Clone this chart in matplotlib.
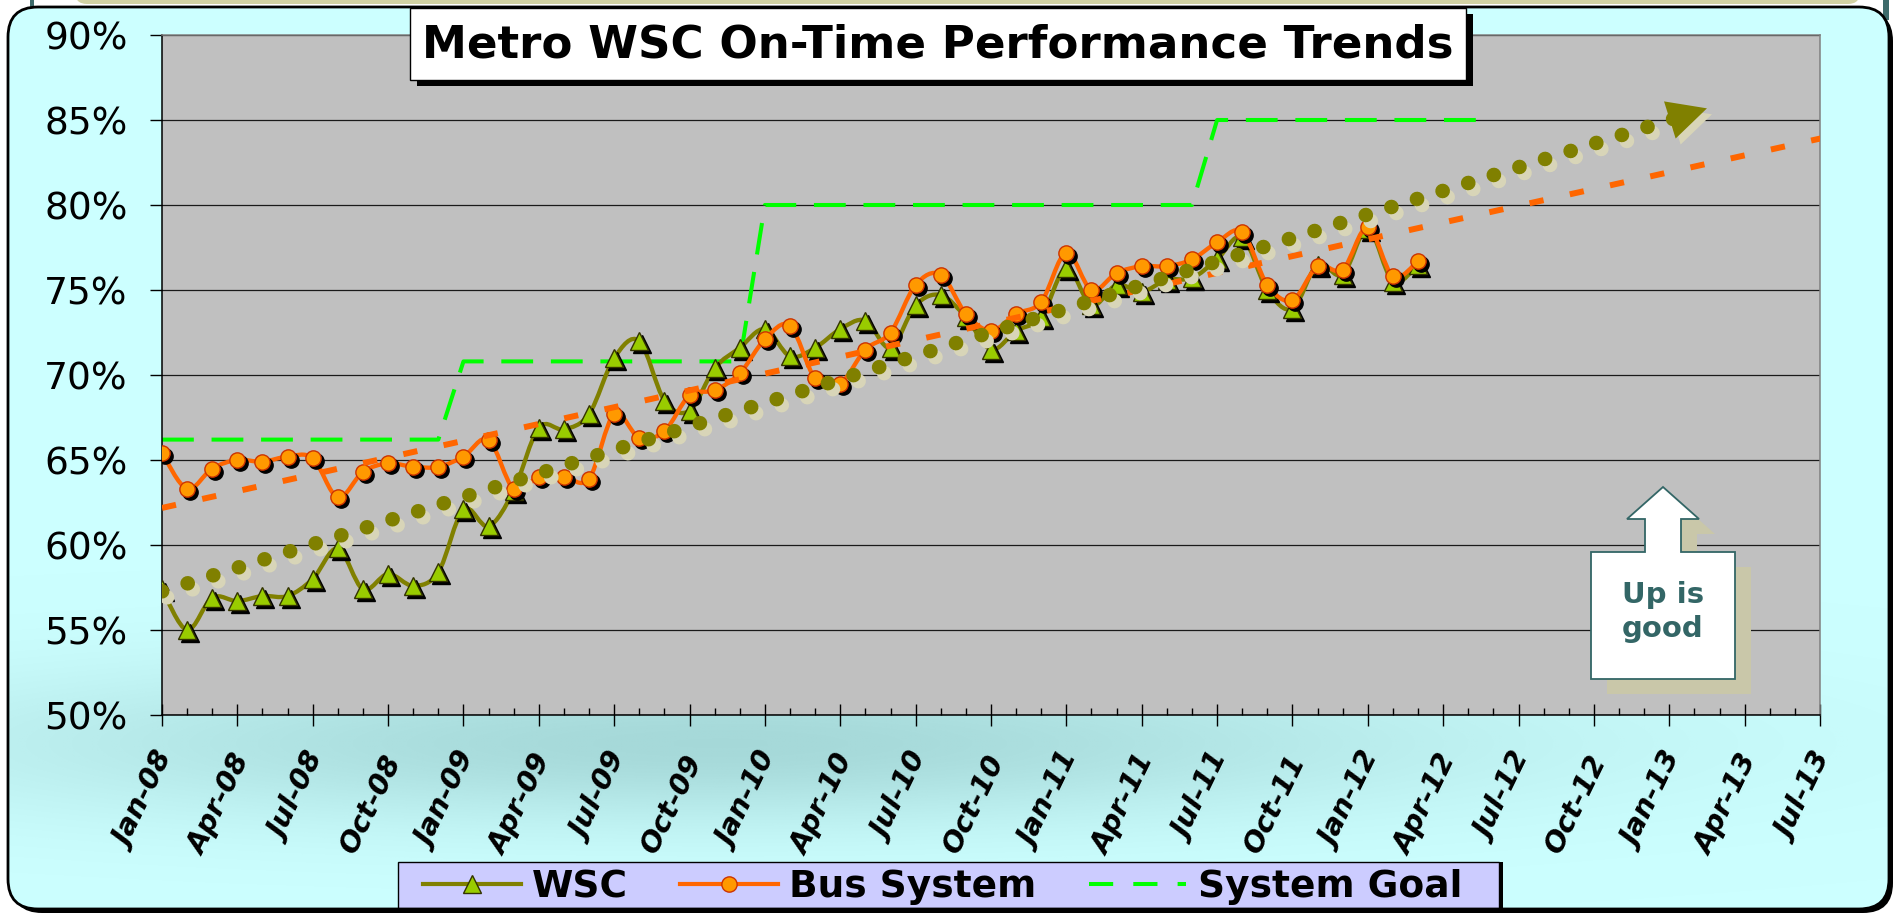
import numpy as np
import matplotlib
matplotlib.use('Agg')
import matplotlib.pyplot as plt
from matplotlib.path import Path
from matplotlib.patches import PathPatch, FancyBboxPatch, Polygon, Rectangle, FancyArrowPatch
from matplotlib.lines import Line2D
from matplotlib.transforms import ScaledTranslation
from matplotlib.ticker import MultipleLocator

plt.rcParams['font.family'] = ['DejaVu Sans']

W, H, DPI = 1895, 913, 100

# monthly on-time %, Jan-08 .. Mar-12
wsc = [57.4, 55.0, 56.9, 56.7, 57.0, 57.0, 58.0, 59.8, 57.4, 58.3, 57.6, 58.4,
       62.1, 61.1, 63.2, 66.9, 66.8, 67.7, 71.0, 72.0, 68.5, 67.9, 70.4, 71.6,
       72.7, 71.1, 71.6, 72.7, 73.2, 71.6, 74.1, 74.7, 73.4, 71.5, 72.6, 73.4,
       76.3, 74.1, 75.3, 74.9, 75.6, 75.7, 76.8, 78.1, 75.0, 73.9, 76.5, 75.9,
       78.6, 75.5, 76.5]
bus = [65.4, 63.3, 64.5, 65.0, 64.9, 65.2, 65.1, 62.8, 64.3, 64.8, 64.6, 64.6,
       65.2, 66.2, 63.3, 64.0, 64.0, 63.9, 67.7, 66.3, 66.7, 68.8, 69.1, 70.1,
       72.1, 72.9, 69.8, 69.5, 71.5, 72.5, 75.3, 75.9, 73.6, 72.6, 73.6, 74.3,
       77.2, 75.0, 76.0, 76.4, 76.4, 76.8, 77.8, 78.4, 75.3, 74.4, 76.4, 76.2,
       78.7, 75.8, 76.7]
# system goal, Jan-08 .. Jun-12
goal = [66.2, 66.2, 66.2, 66.2, 66.2, 66.2, 66.2, 66.2, 66.2, 66.2, 66.2, 66.2,
        70.8, 70.8, 70.8, 70.8, 70.8, 70.8, 70.8, 70.8, 70.8, 70.8, 70.8, 70.8,
        80.0, 80.0, 80.0, 80.0, 80.0, 80.0, 80.0, 80.0, 80.0, 80.0, 80.0, 80.0,
        80.0, 80.0, 80.0, 80.0, 80.0, 80.0,
        85.0, 85.0, 85.0, 85.0, 85.0, 85.0, 85.0, 85.0, 85.0, 85.0, 85.0, 85.0]

tick_labels = ['Jan-08', 'Apr-08', 'Jul-08', 'Oct-08', 'Jan-09', 'Apr-09',
               'Jul-09', 'Oct-09', 'Jan-10', 'Apr-10', 'Jul-10', 'Oct-10',
               'Jan-11', 'Apr-11', 'Jul-11', 'Oct-11', 'Jan-12', 'Apr-12',
               'Jul-12', 'Oct-12', 'Jan-13', 'Apr-13', 'Jul-13']
y_ticks = [50, 55, 60, 65, 70, 75, 80, 85, 90]
series_names = ['WSC', 'Bus System', 'System Goal']

n_months = 66          # Jan-08 .. Jul-13
wsc_trend_end = 61.5   # forward forecast of the WSC trendline

OLIVE, LIME = '#808000', '#99CC00'
ORANGE, LORANGE = '#FF6600', '#FF9900'
GREEN = '#00FF00'
TEAL = '#336666'


def inch(x, y):
    # pixel position (top-left origin) -> inches for fig.dpi_scale_trans
    return (x / DPI, (H - y) / DPI)


def frac(x, y):
    return (x / W, 1 - y / H)


def smooth_path(xs, ys):
    # Catmull-Rom style bezier through the points, like Excel's smoothed line
    p = np.column_stack([xs, ys]).astype(float)
    ext = np.vstack([p[0], p, p[-1]])
    verts, codes = [p[0]], [Path.MOVETO]
    for i in range(len(p) - 1):
        p0, p1, p2, p3 = ext[i], ext[i + 1], ext[i + 2], ext[i + 3]
        verts += [p1 + (p2 - p0) / 6, p2 - (p3 - p1) / 6, p2]
        codes += [Path.CURVE4] * 3
    return Path(verts, codes)


fig = plt.figure(figsize=(W / DPI, H / DPI), dpi=DPI)
fig.patch.set_facecolor('white')
inches = fig.dpi_scale_trans

# ----------------------------
# frame / background
# ----------------------------
fig.add_artist(FancyBboxPatch(inch(75, 4), (1860 - 75) / DPI, 0.4,
                              boxstyle='round,pad=0,rounding_size=0.12',
                              transform=inches, fc='#D2D2A4', ec='none', zorder=-12))
fig.add_artist(Rectangle(inch(30, 8), 0.04, 0.08, transform=inches,
                         fc='#3D6B6B', ec='none', zorder=-12))
fig.add_artist(Rectangle(inch(1883, 20), 0.06, 0.2, transform=inches,
                         fc='#3D6B6B', ec='none', zorder=-12))

box_xy = inch(8, 909)
box_w, box_h = (1889 - 8) / DPI, (909 - 7) / DPI
box_style = 'round,pad=0,rounding_size=0.3'
fig.add_artist(FancyBboxPatch((box_xy[0] + 0.04, box_xy[1] - 0.04), box_w, box_h,
                              boxstyle=box_style, transform=inches,
                              fc='black', ec='none', zorder=-11))
box_fill = FancyBboxPatch(box_xy, box_w, box_h, boxstyle=box_style,
                          transform=inches, fc='#CCFFFF', ec='none', zorder=-10)
fig.add_artist(box_fill)
fig.add_artist(FancyBboxPatch(box_xy, box_w, box_h, boxstyle=box_style,
                              transform=inches, fc='none', ec='black', lw=2,
                              zorder=20))

# soft teal shading behind the date labels
bg = fig.add_axes([0, 0, 1, 1], zorder=-9)
bg.set_xlim(0, W)
bg.set_ylim(H, 0)
bg.axis('off')
gx, gy = np.meshgrid(np.linspace(0, W, 380), np.linspace(0, H, 183))
shade = 0.8 * np.exp(-((gx - 720) / 750) ** 2 - ((gy - 745) / 80) ** 2)
img = np.zeros(gx.shape + (4,))
img[..., 0], img[..., 1], img[..., 2] = 0x9C / 255, 0xCF / 255, 0xCF / 255
img[..., 3] = shade
im = bg.imshow(img, extent=(0, W, H, 0), interpolation='bilinear', aspect='auto')
im.set_clip_path(box_fill)

# ----------------------------
# plot area
# ----------------------------
ax = fig.add_axes([162 / W, 1 - 715 / H, 1658 / W, 680 / H], zorder=0)
ax.set_facecolor('#C0C0C0')


def shifted(dx, dy):
    return ax.transData + ScaledTranslation(dx / DPI, -dy / DPI, inches)


x = np.arange(len(wsc))
xg = np.arange(len(goal))

ax.plot(xg, goal, color=GREEN, lw=2.9, dashes=(7.9, 4.4), zorder=2)

ax.add_patch(PathPatch(smooth_path(x, wsc), fill=False, ec=OLIVE, lw=3.1,
                       capstyle='round', joinstyle='round', zorder=3))
ax.plot(x, wsc, ls='none', marker='^', ms=13, mfc='black', mec='black',
        transform=shifted(3, 3), zorder=3.1)
ax.plot(x, wsc, ls='none', marker='^', ms=13, mfc=LIME, mec='#333300',
        mew=1, zorder=3.2)

ax.add_patch(PathPatch(smooth_path(x, bus), fill=False, ec=ORANGE, lw=3.1,
                       capstyle='round', joinstyle='round', zorder=4))
ax.plot(x, bus, ls='none', marker='o', ms=11, mfc='black', mec='black',
        transform=shifted(3, 3), zorder=4.1)
ax.plot(x, bus, ls='none', marker='o', ms=11, mfc=LORANGE, mec='#CC3300',
        mew=1, zorder=4.2)

# linear trendlines
bus_fit = np.polyfit(x, bus, 1)
xt = np.array([0, n_months + 1])
ax.plot(xt, np.polyval(bus_fit, xt), color=ORANGE, lw=4.3, dashes=(2.4, 4.5),
        dash_capstyle='butt', zorder=5)

wsc_fit = np.polyfit(x, wsc, 1)
xw = np.array([0, wsc_trend_end - 1.1])
head_start = wsc_trend_end - 1.5
for tr, col, z in [(shifted(5, 6), '#D8D5B8', 5.5), (ax.transData, OLIVE, 6)]:
    ax.plot(xw, np.polyval(wsc_fit, xw), color=col, lw=10.5, dashes=(0.01, 1.83),
            dash_capstyle='round', transform=tr, zorder=z)
    ax.add_patch(FancyArrowPatch((head_start, np.polyval(wsc_fit, head_start)),
                                 (wsc_trend_end, np.polyval(wsc_fit, wsc_trend_end)),
                                 arrowstyle='-|>,head_length=1.0,head_width=0.5',
                                 mutation_scale=28, color=col, lw=0,
                                 shrinkA=0, shrinkB=0, transform=tr, zorder=z + 0.1))

ax.set_xlim(0, n_months)
ax.set_ylim(y_ticks[0], y_ticks[-1])
ax.set_yticks(y_ticks)
ax.set_yticklabels([f'{v}%' for v in y_ticks])
ax.set_xticks(np.arange(0, n_months + 1, 3))
ax.xaxis.set_minor_locator(MultipleLocator(1))
ax.yaxis.grid(True, color='#1a1a1a', lw=0.9)

for side in ['left', 'bottom']:
    ax.spines[side].set_color('black')
    ax.spines[side].set_linewidth(1.1)
for side in ['top', 'right']:
    ax.spines[side].set_color('#808080')
    ax.spines[side].set_linewidth(1.1)

ax.tick_params(axis='y', direction='out', length=8.6, width=1, pad=16,
               labelsize=27)
ax.tick_params(axis='x', which='major', direction='inout', length=15.8,
               width=1, pad=21.5)
ax.tick_params(axis='x', which='minor', direction='in', length=5, width=1)
ax.set_xticklabels(tick_labels, rotation=64, ha='right', va='center',
                   rotation_mode='anchor', fontsize=20.5, fontweight='bold',
                   fontstyle='italic')
for lbl in ax.get_xticklabels():
    lbl.set_transform(lbl.get_transform() + ScaledTranslation(6 / DPI, 0, inches))

# ----------------------------
# title box
# ----------------------------
fig.add_artist(Rectangle(inch(417, 86), (1466 - 410) / DPI, 0.72,
                         transform=inches, fc='black', ec='none', zorder=7))
fig.add_artist(Rectangle(inch(410, 80), (1466 - 410) / DPI, 0.72,
                         transform=inches, fc='white', ec='black', lw=1, zorder=7.1))
fig.text(*frac(938, 45), 'Metro WSC On-Time Performance Trends', fontsize=32.5,
         fontweight='bold', ha='center', va='center', zorder=8)

# ----------------------------
# "Up is good" callout
# ----------------------------
callout = [(1591, 552), (1645, 552), (1645, 519), (1627, 519), (1663, 487),
           (1699, 519), (1681, 519), (1681, 552), (1735, 552), (1735, 679),
           (1591, 679)]
fig.add_artist(Polygon([inch(px + 16, py + 15) for px, py in callout],
                       transform=inches, fc='#C9C7A9', ec='none', zorder=6.9))
fig.add_artist(Polygon([inch(px, py) for px, py in callout], transform=inches,
                       fc='white', ec=TEAL, lw=1.3, zorder=7))
fig.text(*frac(1663, 612), 'Up is\ngood', color=TEAL, fontsize=21,
         fontweight='bold', ha='center', va='center', linespacing=1.25, zorder=8)

# ----------------------------
# legend
# ----------------------------
fig.add_artist(Rectangle(inch(402, 913), (1499 - 398) / DPI, (913 - 862) / DPI,
                         transform=inches, fc='black', ec='none', zorder=7))
fig.add_artist(Rectangle(inch(398, 909), (1499 - 398) / DPI, (909 - 862) / DPI,
                         transform=inches, fc='#CCCCFF', ec='black', lw=1, zorder=7.1))
handles = [Line2D([], [], color=OLIVE, lw=3, marker='^', ms=13, mfc=LIME, mec='#333300'),
           Line2D([], [], color=ORANGE, lw=3, marker='o', ms=11, mfc=LORANGE, mec='#CC3300'),
           Line2D([], [], color=GREEN, lw=2.9, dashes=(6, 5))]
leg = fig.legend(handles, series_names, loc='center left',
                 bbox_to_anchor=frac(423, 887), ncol=3, frameon=False,
                 prop=dict(weight='bold', size=27), borderpad=0, borderaxespad=0,
                 handlelength=2.6, handletextpad=0.3, columnspacing=1.4)
leg.set_zorder(8)

fig.savefig('out.png', dpi=DPI)
